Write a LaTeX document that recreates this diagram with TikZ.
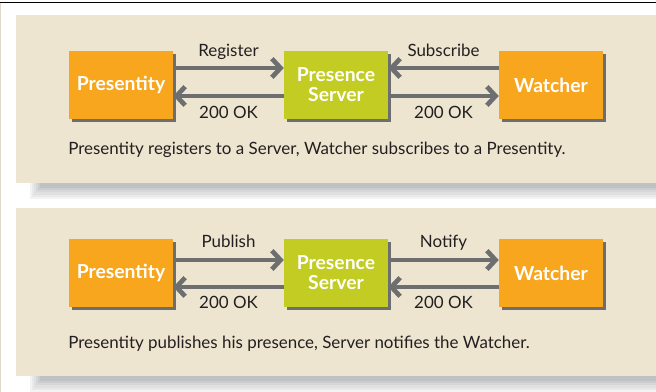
\documentclass[tikz,border=0pt]{standalone}
\usepackage{fontspec}
\setmainfont{Lato}
\usetikzlibrary{arrows.meta, positioning, shadows}

\definecolor{panelbeige}{RGB}{237,229,208}
\definecolor{boxorange}{RGB}{247,166,29}
\definecolor{boxgreen}{RGB}{194,204,35}
\definecolor{flowgray}{RGB}{109,110,112}
\definecolor{inkdark}{RGB}{35,31,32}
\definecolor{shadegray}{RGB}{192,193,196}
\definecolor{edgebeige}{RGB}{222,217,200}

\tikzset{
  entity/.style={minimum width=78pt, minimum height=51pt, inner sep=0pt,
    text=white, align=center, font=\bfseries\fontsize{14.5}{15}\selectfont,
    drop shadow={shadow xshift=2.25pt, shadow yshift=-2.25pt, fill=flowgray, opacity=1}},
  flow/.style={draw=flowgray, line width=3.5pt, -{Straight Barb[length=6.5pt, width=14pt]}},
  msg/.style={text=inkdark, font=\fontsize{12.7}{15}\selectfont, anchor=base, inner sep=0pt},
}

\begin{document}
\begin{tikzpicture}[x=0.75pt, y=0.75pt]
        \useasboundingbox (0,0) rectangle (656,392);

        % Frame, panels and their shadows
        \draw[line width=1.2pt] (0,389.5) -- (656,389.5);
        \draw[edgebeige, line width=0.9pt] (0.6,0) -- (0.6,389);
        \foreach \b in {209,16} {
            \foreach \i/\p in {0/20,1/35,2/50,3/65,4/82,5/100} {
                \fill[shadegray!\p!white] (30+2*\i, \b-16+2.2*\i) rectangle (656,\b);
            }
        }
        \fill[panelbeige] (16,209) rectangle (656,377);
        \fill[panelbeige] (16,16) rectangle (656,184);

        % Register / Subscribe
        \node[entity, fill=boxorange] (pres1) at (121,307) {Presentity};
        \node[entity, fill=boxgreen] (srv1) at (336,307) {Presence\\Server};
        \node[entity, fill=boxorange] (watch1) at (551,307) {Watcher};

        \draw[flow] ([yshift=12.75pt]pres1.east) -- ([yshift=12.75pt]srv1.west)
            node[msg, midway, yshift=8.25pt] {Register};
        \draw[flow] ([yshift=-8.25pt]srv1.west) -- ([yshift=-8.25pt]pres1.east)
            node[msg, midway, yshift=-17.25pt] {200 OK};
        \draw[flow] ([yshift=12.75pt]watch1.west) -- ([yshift=12.75pt]srv1.east)
            node[msg, midway, yshift=8.25pt] {Subscribe};
        \draw[flow] ([yshift=-8.25pt]srv1.east) -- ([yshift=-8.25pt]watch1.west)
            node[msg, midway, yshift=-17.25pt] {200 OK};

        \node[msg, anchor=base west] (cap1) at (68,237)
            {Presentity registers to a Server, Watcher subscribes to a Presentity.};

        % Publish / Notify
        \node[entity, fill=boxorange] (pres2) at (121,119) {Presentity};
        \node[entity, fill=boxgreen] (srv2) at (336,119) {Presence\\Server};
        \node[entity, fill=boxorange] (watch2) at (551,119) {Watcher};

        \draw[flow] ([yshift=9.75pt]pres2.east) -- ([yshift=9.75pt]srv2.west)
            node[msg, midway, yshift=9pt] {Publish};
        \draw[flow] ([yshift=-10.5pt]srv2.west) -- ([yshift=-10.5pt]pres2.east)
            node[msg, midway, yshift=-16.5pt] {200 OK};
        \draw[flow] ([yshift=9.75pt]srv2.east) -- ([yshift=9.75pt]watch2.west)
            node[msg, midway, yshift=9pt] {Notify};
        \draw[flow] ([yshift=-10.5pt]watch2.west) -- ([yshift=-10.5pt]srv2.east)
            node[msg, midway, yshift=-16.5pt] {200 OK};

        \node[msg, anchor=base west] (cap2) at (68,43)
            {Presentity publishes his presence, Server notifies the Watcher.};
    \end{tikzpicture}
\end{document}
